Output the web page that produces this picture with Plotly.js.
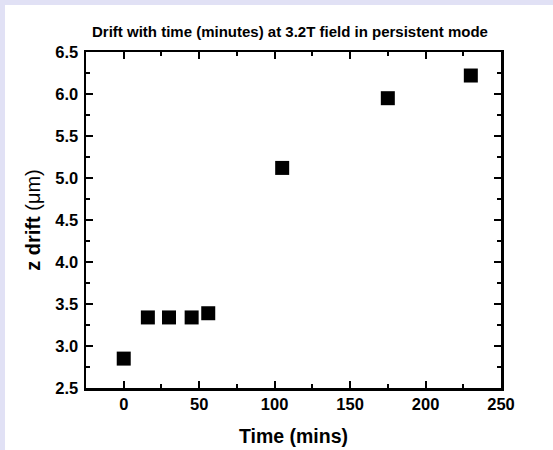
<!DOCTYPE html>
<html>
<head>
<meta charset="utf-8">
<script src="https://cdn.plot.ly/plotly-3.0.1.min.js"></script>
<style>
  html, body { margin: 0; padding: 0; background: #E1E1F5; width: 553px; height: 450px; overflow: hidden; }
  #chart { position: absolute; left: 5px; top: 5px; width: 548px; height: 445px; background: #ffffff; }
</style>
</head>
<body>
<div id="chart"></div>
<script>
const timeMins = [0, 16, 30, 45, 56, 105, 175, 230];
const zDrift = [2.85, 3.34, 3.34, 3.34, 3.39, 5.12, 5.95, 6.22];
const chartTitle = 'Drift with time (minutes) at 3.2T field in persistent mode';
const xTitle = 'Time (mins)';
const yTitleMain = 'z drift';
const yTitleUnit = '(\u03BCm)';

const font = 'Liberation Sans, Arial, sans-serif';

const trace = {
  x: timeMins,
  y: zDrift,
  type: 'scatter',
  mode: 'markers',
  marker: { symbol: 'square', size: 14, color: '#000000' },
  hoverinfo: 'x+y'
};

const axisCommon = {
  showline: true,
  linecolor: '#000000',
  linewidth: 2.5,
  mirror: 'ticks',
  ticks: 'inside',
  ticklen: 7,
  tickwidth: 2,
  tickcolor: '#000000',
  showgrid: false,
  zeroline: false,
  tickfont: { family: font, size: 16.5, color: '#000000', weight: 'bold' }
};

const layout = {
  width: 548,
  height: 445,
  paper_bgcolor: '#ffffff',
  plot_bgcolor: '#ffffff',
  margin: { l: 81, r: 52, t: 47, b: 62 },
  showlegend: false,
  title: {
    text: '<b>' + chartTitle + '</b>',
    font: { family: font, size: 15, color: '#000000' },
    x: 0.52, xanchor: 'center',
    y: 0.94, yanchor: 'middle'
  },
  xaxis: Object.assign({}, axisCommon, {
    range: [-25, 250],
    tick0: 0,
    dtick: 50,
    minor: { dtick: 25, tick0: 0, ticks: 'inside', ticklen: 4, tickwidth: 2, tickcolor: '#000000', showgrid: false },
    title: { text: '<b>' + xTitle + '</b>', font: { family: font, size: 19.5, color: '#000000' }, standoff: 17 }
  }),
  yaxis: Object.assign({}, axisCommon, {
    range: [2.5, 6.5],
    tick0: 2.5,
    dtick: 0.5,
    tickformat: '.1f',
    ticklabelstandoff: 2,
    minor: { dtick: 0.25, tick0: 2.5, ticks: 'inside', ticklen: 4, tickwidth: 2, tickcolor: '#000000', showgrid: false },
    title: { text: '<b>' + yTitleMain + '</b> ' + yTitleUnit, font: { family: font, size: 20, color: '#000000' }, standoff: 10 }
  })
};

Plotly.newPlot('chart', [trace], layout, { displayModeBar: false, staticPlot: true });
</script>
</body>
</html>
